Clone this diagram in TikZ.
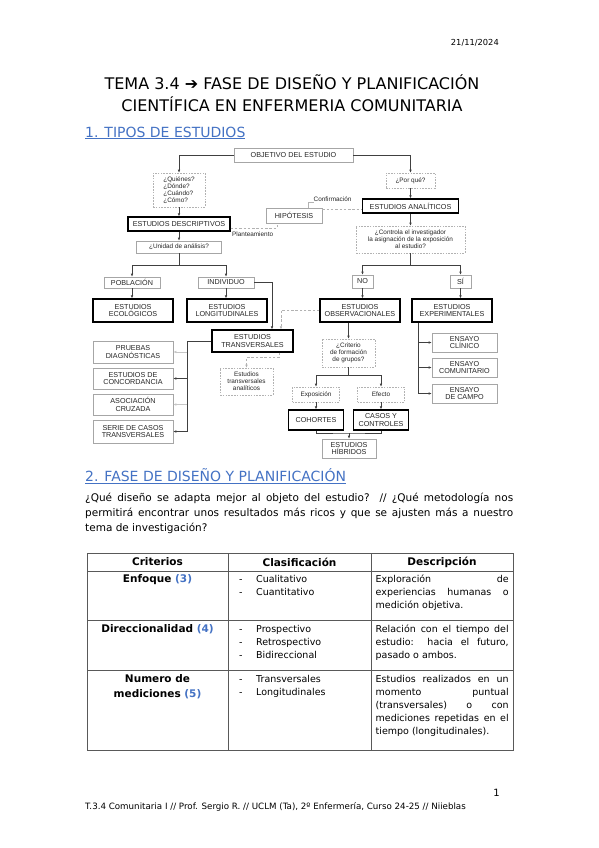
\documentclass[tikz,border=0pt]{standalone}
\usepackage{fontspec}
\setmainfont{DejaVu Sans}
\newfontfamily\diagfont{Liberation Sans}
\usetikzlibrary{arrows.meta}
\definecolor{azulword}{HTML}{4472C4}
\tolerance=10000
\hyphenpenalty=10000

\newcommand{\dg}{\diagfont\fontsize{7.2}{7.8}\selectfont}
\newcommand{\dgp}{\diagfont\fontsize{6.4}{7}\selectfont}

\tikzset{
  caja/.style={draw=gray!70, line width=0.6pt, fill=white, align=center, inner sep=0.5pt, font=\dg, text=black!85},
  gruesa/.style={caja, draw=black, line width=1.3pt},
  punteada/.style={caja, draw=gray!60, dash pattern=on 1.6pt off 1.2pt},
  flecha/.style={draw=gray!50!black, line width=0.6pt, -{Latex[length=3pt,width=2.6pt]}},
  linea/.style={draw=gray!50!black, line width=0.6pt},
  discont/.style={draw=gray!60, line width=0.7pt, dash pattern=on 2.5pt off 1.8pt},
  etiq/.style={font=\dgp, inner sep=0pt, text=black!85},
  borde/.style={draw=gray!70!black, line width=0.9pt},
  negrita/.style={font=\bfseries\fontsize{10.5}{14.5}\selectfont, inner sep=0pt},
  celda/.style={font=\fontsize{9.5}{13}\selectfont, inner sep=0pt, anchor=north west}
}

\begin{document}
\begin{tikzpicture}[x=1pt, y=-1pt]
\useasboundingbox (0,0) rectangle (599,848);
\fill[white] (0,0) rectangle (599,848);

% Cabecera
\node[font=\fontsize{8.3}{10}\selectfont, anchor=east, inner sep=0pt] (fecha) at (499,43) {21/11/2024};
\node[font=\fontsize{16}{22}\selectfont, align=center, inner sep=0pt] (titulo) at (292,93)
  {TEMA 3.4 ➔ FASE DE DISEÑO Y PLANIFICACIÓN\\CIENTÍFICA EN ENFERMERIA COMUNITARIA};

% Apartado 1
\node[font=\fontsize{14}{16}\selectfont, text=azulword, anchor=west, inner sep=0pt] (apartado1) at (85,133)
  {\underline{1. TIPOS DE ESTUDIOS}};

% Esquema: parte superior
\node[caja, minimum width=119pt, minimum height=14pt] (objetivo) at (293.5,155) {OBJETIVO DEL ESTUDIO};
\node[punteada, font=\dgp, align=left, minimum width=52pt, minimum height=34pt] (preguntas) at (179,190)
  {¿Quiénes?\\¿Dónde?\\¿Cuándo?\\¿Cómo?};
\node[punteada, font=\dgp, minimum width=49pt, minimum height=15pt] (porque) at (410.5,180.5) {¿Por qué?};
\node[gruesa, minimum width=96pt, minimum height=14pt] (analiticos) at (410.5,206) {ESTUDIOS ANALÍTICOS};
\node[caja, minimum width=56pt, minimum height=15pt] (hipotesis) at (294,215.5) {HIPÓTESIS};
\node[gruesa, minimum width=102pt, minimum height=14pt] (descriptivos) at (179,224) {ESTUDIOS DESCRIPTIVOS};
\node[caja, font=\dgp, minimum width=85pt, minimum height=12pt] (unidad) at (179,247) {¿Unidad de análisis?};
\node[punteada, font=\dgp, minimum width=109pt, minimum height=27pt] (controla) at (410.5,239.5)
  {¿Controla el investigador\\la asignación de la exposición\\al estudio?};
\node[etiq, anchor=west] (confirmacion) at (313.5,199.5) {Confirmación};
\node[etiq, anchor=west] (planteamiento) at (232,234) {Planteamiento};

% Unidad de análisis y asignación
\node[caja, minimum width=56pt, minimum height=11pt] (poblacion) at (132,282.5) {POBLACIÓN};
\node[caja, minimum width=56pt, minimum height=11pt] (individuo) at (226,282.5) {INDIVIDUO};
\node[caja, minimum width=21pt, minimum height=13pt] (no) at (362.5,281.5) {NO};
\node[caja, minimum width=21pt, minimum height=13pt] (si) at (460.5,281.5) {SÍ};

\node[gruesa, minimum width=80pt, minimum height=23pt] (ecologicos) at (133,310.5) {ESTUDIOS\\ECOLÓGICOS};
\node[gruesa, minimum width=80pt, minimum height=23pt] (longitudinales) at (227,310.5) {ESTUDIOS\\LONGITUDINALES};
\node[gruesa, minimum width=80pt, minimum height=23pt] (observacionales) at (360,310.5) {ESTUDIOS\\OBSERVACIONALES};
\node[gruesa, minimum width=80pt, minimum height=23pt] (experimentales) at (452,310.5) {ESTUDIOS\\EXPERIMENTALES};

% Transversales
\node[gruesa, minimum width=81pt, minimum height=22pt] (transversales) at (252.5,341) {ESTUDIOS\\TRANSVERSALES};
\node[caja, minimum width=80pt, minimum height=22pt] (pruebas) at (133,352) {PRUEBAS\\DIAGNÓSTICAS};
\node[caja, minimum width=80pt, minimum height=21pt] (concordancia) at (133,378.5) {ESTUDIOS DE\\CONCORDANCIA};
\node[caja, minimum width=80pt, minimum height=21pt] (asociacion) at (133,404.5) {ASOCIACIÓN\\CRUZADA};
\node[caja, minimum width=80pt, minimum height=23pt] (serie) at (133,431.5) {SERIE DE CASOS\\TRANSVERSALES};
\node[punteada, font=\dgp, minimum width=53pt, minimum height=27pt] (analiticas) at (246.5,381.5)
  {Estudios\\transversales\\analíticos};

% Observacionales
\node[punteada, font=\dgp, minimum width=53pt, minimum height=28pt] (criterio) at (348.5,353)
  {¿Criterio\\de formación\\de grupos?};
\node[punteada, font=\dgp, minimum width=47pt, minimum height=15pt] (exposicion) at (316,394.5) {Exposición};
\node[punteada, font=\dgp, minimum width=47pt, minimum height=15pt] (efecto) at (381,394.5) {Efecto};
\node[gruesa, minimum width=55pt, minimum height=20pt] (cohortes) at (316,420) {COHORTES};
\node[gruesa, minimum width=55pt, minimum height=20pt] (casos) at (381,420) {CASOS Y\\CONTROLES};
\node[caja, minimum width=54pt, minimum height=19pt] (hibridos) at (349,448.5) {ESTUDIOS\\HÍBRIDOS};

% Experimentales
\node[caja, minimum width=65pt, minimum height=19pt] (clinico) at (464.5,342.5) {ENSAYO\\CLÍNICO};
\node[caja, minimum width=65pt, minimum height=19pt] (comunitario) at (464.5,367.5) {ENSAYO\\COMUNITARIO};
\node[caja, minimum width=65pt, minimum height=19pt] (campo) at (464.5,393.5) {ENSAYO\\DE CAMPO};

% Conectores
\draw[flecha] (objetivo.west) -| (preguntas.north);
\draw[flecha] (objetivo.east) -| (porque.north);
\draw[flecha] (preguntas) -- (descriptivos);
\draw[flecha] (porque) -- (analiticos);
\draw[flecha] (analiticos) -- (controla);
\draw[flecha] (descriptivos) -- (unidad);

\draw[discont] ([yshift=-4pt]descriptivos.east) -| ([xshift=-17pt]hipotesis.south);
\draw[discont] ([yshift=6pt]hipotesis.east) -- ([yshift=6pt]hipotesis.east -| analiticos.west);
\draw[linea, draw=gray!60] ([xshift=14pt]hipotesis.north) |- (confirmacion.south west);

\coordinate (ramaU) at (179,265);
\draw[linea] (unidad) -- (ramaU);
\draw[flecha] (ramaU) -| (poblacion);
\draw[flecha] (ramaU) -| (individuo);
\coordinate (ramaC) at (410.5,265);
\draw[linea] (controla) -- (ramaC);
\draw[flecha] (ramaC) -| (no);
\draw[flecha] (ramaC) -| (si);

\draw[flecha] (poblacion.south) -- (poblacion.south |- ecologicos.north);
\draw[flecha] (individuo.south) -- (individuo.south |- longitudinales.north);
\draw[flecha] (no.south) -- (no.south |- observacionales.north);
\draw[flecha] (si.south) -- (si.south |- experimentales.north);

\draw[flecha] (individuo.east) -| ([xshift=19.5pt]transversales.north);
\draw[discont, -{Latex[length=3pt,width=2.6pt]}] (observacionales.west) -| ([xshift=28.5pt]transversales.north);

\coordinate (ramaT) at (187,341);
\draw[linea] (transversales.west) -- (ramaT) -- (ramaT |- serie.east);
\draw[flecha, draw=gray!45] (ramaT |- pruebas.east) -- (pruebas.east);
\draw[flecha] (ramaT |- concordancia.east) -- (concordancia.east);
\draw[flecha, draw=gray!45] (ramaT |- asociacion.east) -- (asociacion.east);
\draw[flecha] (ramaT |- serie.east) -- (serie.east);
\draw[discont, -{Latex[length=3pt,width=2.6pt]}] ([xshift=26.5pt]transversales.south) -- ++(0,5) -| (analiticas.north);

\draw[flecha, line width=1.1pt] (observacionales.south -| criterio.north) -- (criterio.north);
\coordinate (ramaG) at (348.5,375);
\draw[linea] (criterio) -- (ramaG);
\draw[flecha] (ramaG) -| (exposicion);
\draw[flecha] (ramaG) -| (efecto);
\draw[flecha] (exposicion) -- (cohortes);
\draw[flecha] (efecto) -- (casos);
\coordinate (ramaH) at (349,433);
\draw[linea] (cohortes.south) |- (ramaH) -| (casos.south);
\draw[flecha] (ramaH) -- (hibridos);

\coordinate (ramaE) at (418,393.5);
\draw[linea] (experimentales.south -| ramaE) -- (ramaE);
\draw[flecha] (ramaE |- clinico.west) -- (clinico.west);
\draw[flecha] (ramaE |- comunitario.west) -- (comunitario.west);
\draw[flecha] (ramaE |- campo.west) -- (campo.west);

% Apartado 2
\node[font=\fontsize{14}{16}\selectfont, text=azulword, anchor=west, inner sep=0pt] (apartado2) at (85,476)
  {\underline{2. FASE DE DISEÑO Y PLANIFICACIÓN}};
\node[font=\fontsize{10.5}{15}\selectfont, text width=428pt, align=justify, inner sep=0pt, anchor=north west] (parrafo) at (85,490.5)
  {\strut ¿Qué diseño se adapta mejor al objeto del estudio? // ¿Qué metodología nos\linebreak
   permitirá encontrar unos resultados más ricos y que se ajusten más a nuestro\linebreak
   tema de investigación?};

% Tabla
\draw[borde] (87,553) rectangle (513,750);
\draw[borde] (228,553) -- (228,750);
\draw[borde] (371,553) -- (371,750);
\draw[borde] (87,571) -- (513,571);
\draw[borde] (87,620) -- (513,620);
\draw[borde] (87,670) -- (513,670);

\node[negrita] (criterios) at (157.5,562) {Criterios};
\node[negrita] (clasificacion) at (299.5,562) {Clasificación};
\node[negrita] (descripcion) at (442,562) {Descripción};

\node[negrita] (enfoque) at (157.5,580) {Enfoque \textcolor{azulword}{(3)}};
\node[celda] (clas1) at (239,573.2)
  {\begin{tabular}{@{}p{17pt}@{}l@{}}- & Cualitativo\\- & Cuantitativo\end{tabular}};
\node[celda, text width=133pt, align=justify] (desc1) at (375.5,573.2)
  {\strut Exploración de\linebreak experiencias humanas o\linebreak medición objetiva.};

\node[negrita] (direccionalidad) at (157.5,629.5) {Direccionalidad \textcolor{azulword}{(4)}};
\node[celda] (clas2) at (239,623.2)
  {\begin{tabular}{@{}p{17pt}@{}l@{}}- & Prospectivo\\- & Retrospectivo\\- & Bidireccional\end{tabular}};
\node[celda, text width=133pt, align=justify] (desc2) at (375.5,623.2)
  {\strut Relación con el tiempo del\linebreak estudio: hacia el futuro,\linebreak pasado o ambos.};

\node[negrita, align=center] (mediciones) at (157.5,686.5) {Numero de\\mediciones \textcolor{azulword}{(5)}};
\node[celda] (clas3) at (239,672.7)
  {\begin{tabular}{@{}p{17pt}@{}l@{}}- & Transversales\\- & Longitudinales\end{tabular}};
\node[celda, text width=133pt, align=justify] (desc3) at (375.5,673.2)
  {\strut Estudios realizados en un\linebreak momento puntual\linebreak (transversales) o con\linebreak
   mediciones repetidas en el\linebreak tiempo (longitudinales).};

% Pie de página
\node[font=\fontsize{10}{12}\selectfont, anchor=east, inner sep=0pt] (pagina) at (500,793) {1};
\node[font=\fontsize{8.7}{10}\selectfont, anchor=west, inner sep=0pt] (pie) at (85,807)
  {T.3.4 Comunitaria I // Prof. Sergio R. // UCLM (Ta), 2º Enfermería, Curso 24-25 // Niieblas};

\end{tikzpicture}
\end{document}
